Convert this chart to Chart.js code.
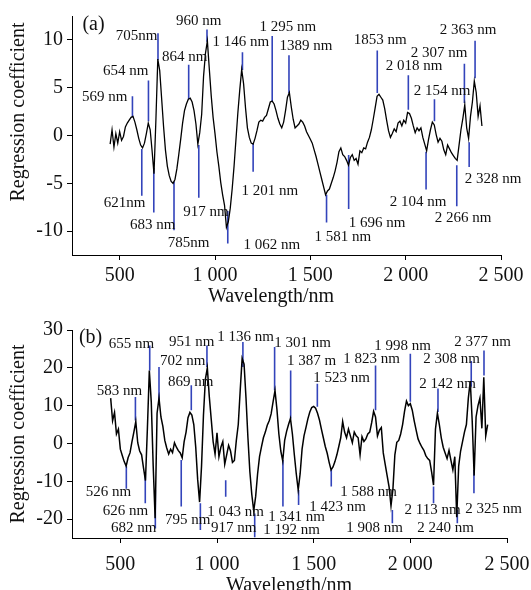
<!DOCTYPE html>
<html>
<head>
<meta charset="utf-8">
<script src="https://cdn.jsdelivr.net/npm/chart.js@4.4.1/dist/chart.umd.min.js"></script>
<style>
  html, body { margin: 0; padding: 0; background: #fff; }
  body { width: 531px; height: 590px; position: relative; overflow: hidden; }
  canvas { position: absolute; left: 0; }
  #chartA { top: 0; }
  #chartB { top: 312px; }
</style>
</head>
<body>
<canvas id="chartA" width="531" height="312"></canvas>
<canvas id="chartB" width="531" height="278"></canvas>
<script>
// spectra are sampled every 10 nm starting at 450 nm
const startNm = 450;
const stepNm = 10;

// (a) regression coefficients, 450 .. 2400 nm
const coefA = [
  -0.9, 0.6, -1.2, 0.2, -0.8, 0.4, -0.5, -0.1, 0.9, 1.3,
  1.6, 1.9, 2.0, 1.4, 0.6, -0.3, -1.0, -1.3, -0.8, 0.2,
  1.3, 0.6, -1.6, -4.0, 1.6, 8.0, 6.8, 3.9, 1.0, -1.5,
  -3.2, -4.2, -4.8, -5.0, -4.6, -3.5, -2.0, -0.4, 1.3, 2.6,
  3.3, 3.8, 3.9, 3.5, 2.6, 1.2, -0.9, 0.3, 2.2, 6.2,
  8.6, 9.9, 7.0, 4.2, 1.9, 0.2, -1.7, -3.2, -4.9, -6.2,
  -7.3, -9.6, -9.0, -7.6, -5.6, -3.2, -0.4, 2.4, 4.8, 6.9,
  5.4, 2.9, 0.8, -0.2, -0.8, -0.9, -0.3, 0.5, 1.4, 1.6,
  1.5, 1.9, 2.1, 2.8, 3.5, 3.6, 3.3, 2.6, 1.8, 1.2,
  0.8, 1.4, 2.6, 4.0, 4.5, 3.0, 1.7, 0.8, 1.0, 1.2,
  1.6, 1.4, 1.0, 0.4, 0.0, -0.4, -0.8, -1.5, -2.2, -3.0,
  -3.8, -4.6, -5.4, -6.2, -5.8, -5.6, -5.0, -4.4, -3.7, -2.8,
  -1.7, -1.3, -2.0, -2.2, -2.6, -3.1, -2.3, -2.0, -2.6, -2.4,
  -3.0, -1.6, -1.8, -1.3, -1.4, -0.7, -0.2, 0.6, 1.7, 2.9,
  4.1, 4.3, 4.0, 3.7, 2.8, 1.6, 0.5, -0.2, 0.2, 0.7,
  0.4, 1.3, 1.5, 1.0, 1.6, 1.3, 2.4, 2.3, 1.8, 1.0,
  0.3, 0.8, 0.5, 0.8, -0.2, -0.9, -1.6, -0.4, 0.6, 1.4,
  1.1, 0.1, -0.7, -0.3, -0.6, -1.5, -2.0, -1.0, -1.4, -1.8,
  -2.1, -2.4, -2.6, -1.0, 0.6, 1.8, 3.2, 0.8, -0.3, 2.0,
  3.5, 5.7, 4.5, 2.0, 3.1, 1.0
];

// (b) regression coefficients, 450 .. 2400 nm
const coefB = [
  12.0, 6.0, 8.2, 2.5, 3.8, -1.5, -3.2, -4.8, -6.0, -3.8,
  -2.5, 0.4, 3.0, 5.8, 0.2, -2.0, -3.0, -6.5, -9.8, 4.0,
  19.3, 11.0, -6.0, -19.8, 8.0, 12.0, 7.0, 4.5, 0.8, -1.2,
  -2.8, -1.5, -2.4, 0.2, -1.0, -1.9, -2.5, -3.8, 0.5, 3.0,
  6.8, 8.2, 7.5, 5.0, -1.0, -9.5, -15.5, -6.0, 7.5, 17.0,
  20.0, 12.5, 6.5, 0.5, -2.8, 2.8, -3.5, -1.0, 0.5, -5.5,
  -3.0, -0.5, -2.0, -5.0, -4.5, 0.8, 5.0, 14.0, 22.5, 21.0,
  12.0, 1.5, -7.5, -13.5, -17.8, -14.0, -8.0, -3.5, -0.9, 1.5,
  3.0, 4.8, 6.0, 7.8, 11.0, 14.0, 9.0, 2.5, -2.0, -4.6,
  0.8, 3.2, 5.0, 6.6, 2.5, -3.0, -8.0, -12.3, -8.0, -1.5,
  2.0, 4.2, 6.5, 8.3, 9.5, 9.8, 9.3, 8.0, 6.2, 3.8,
  1.5, -0.8, -2.6, -5.0, -7.0, -6.2, -4.8, -3.0, -0.8, 1.5,
  5.8, 3.0, 1.5, 3.8, 2.0, 0.2, 3.0, 2.0, 1.5, -3.0,
  1.8, 0.5, 1.2, 2.5, 3.0, 5.5, 8.5, 7.0, 2.0, 3.5,
  4.2, -2.5, -5.5, -8.5, -11.5, -16.5, -12.0, -3.0, 0.3, 0.8,
  2.5, 5.0, 8.5, 11.2, 10.0, 10.5, 8.8, 6.0, 3.5, 1.2,
  0.0, -1.0, -1.8, -3.2, -4.0, -4.5, -7.5, -11.0, 3.8, 8.0,
  5.0, 1.5, -1.0, -2.5, -4.0, -1.8, -4.5, -7.0, -3.5, -19.5,
  -6.0, -2.0, 0.5, 3.0, 5.0, 12.0, 16.5, 6.0, -8.5, 7.0,
  10.0, 12.0, 4.0, 17.5, 2.0, 5.0
];

const xTicks = [500, 1000, 1500, 2000, 2500];
const yTicksA = [-10, -5, 0, 5, 10];
const yTicksB = [-20, -10, 0, 10, 20, 30];

// blue marker lines: wavelength, upper and lower end (coefficient units)
const markerNmA  = [567, 616, 651, 679, 701, 785, 862, 915, 958, 1067, 1144, 1200, 1300, 1388, 1585, 1701, 1851, 2014, 2107, 2151, 2268, 2308, 2333, 2364];
const markerTopA = [4.1, -1.4, 5.75, -3.4, 10.7, -4.8, 7.4, -1.0, 11.1, -7.9, 8.7, -0.86, 10.4, 8.4, -6.2, -2.05, 8.9, 6.3, -1.7, 3.8, -3.1, 7.5, -0.7, 9.9];
const markerBotA = [1.9, -6.3, 1.5, -8.05, 7.9, -9.9, 3.8, -6.5, 9.8, -11.3, 6.85, -3.8, 3.6, 4.45, -9.1, -7.7, 4.45, 2.7, -5.65, 1.5, -7.4, 3.4, -3.3, 6.0];

const markerNmB  = [578, 531, 629, 652, 681, 700, 815, 867, 914, 948, 1045, 1134, 1195, 1298, 1341, 1381, 1422, 1519, 1591, 1820, 1907, 2000, 2120, 2143, 2243, 2315, 2329, 2381];
const markerTopB = [12.3, -6.0, -7.9, 25.9, -12.3, 20.2, -4.4, 15.4, -15.8, 25.9, -9.7, 26.8, -18.5, 25.5, -4.4, 19.3, -12.3, 15.8, -7.0, 20.6, -17.6, 23.7, -11.4, 14.5, -17.6, 21.8, -7.0, 24.6];
const markerBotB = [6.1, -12.0, -15.8, 19.3, -22.5, 11.0, -16.7, 8.8, -22.9, 20.2, -14.1, 20.2, -24.8, 14.1, -16.7, 6.6, -16.3, 9.7, -11.4, 8.8, -21.1, 11.0, -15.8, 8.3, -21.1, 15.0, -13.2, 18.0];

// marker captions and where they sit (centre, in axis units)
const labelTextA = ['569 nm', '654 nm', '705nm', '864 nm', '960 nm', '1 146 nm', '1 295 nm', '1389 nm', '1853 nm', '2 018 nm', '2 307 nm', '2 154 nm', '2 363 nm',
                    '621nm', '683 nm', '785nm', '917 nm', '1 201 nm', '1 062 nm', '1 581 nm', '1 696 nm', '2 104 nm', '2 266 nm', '2 328 nm'];
const labelNmA  = [421, 532, 589, 841, 915, 1135, 1382, 1477, 1866, 2044, 2175, 2191, 2328, 526, 673, 862, 952, 1288, 1298, 1671, 1850, 2065, 2301, 2459];
const labelValA = [4.04, 6.71, 10.41, 8.25, 11.95, 9.79, 11.34, 9.38, 10.0, 7.23, 8.66, 4.66, 11.03, -7.06, -9.42, -11.27, -7.99, -5.83, -11.48, -10.66, -9.12, -6.96, -8.6, -4.59];

const labelTextB = ['583 nm', '655 nm', '702 nm', '869 nm', '951 nm', '1 136 nm', '1 301 nm', '1 387 m', '1 523 nm', '1 823 nm', '1 998 nm', '2 308 nm', '2 142 nm', '2 377 nm',
                    '526 nm', '626 nm', '682 nm', '795 nm', '917 nm', '1 043 nm', '1 192 nm', '1 341 nm', '1 423 nm', '1 588 nm', '1 908 nm', '2 113 nm', '2 240 nm', '2 325 nm'];
const labelNmB  = [496, 558, 822, 864, 869, 1148, 1443, 1489, 1645, 1800, 1960, 2213, 2193, 2374, 439, 527, 569, 848, 1086, 1096, 1386, 1412, 1624, 1784, 1815, 2115, 2182, 2431];
const labelValB = [13.8, 26.2, 21.7, 16.17, 26.73, 28.05, 26.46, 21.7, 17.23, 22.24, 25.67, 22.24, 15.65, 26.73, -12.85, -17.86, -22.35, -20.24, -22.35, -18.13, -22.88, -19.45, -16.8, -12.85, -22.35, -17.6, -22.35, -17.33];

const serif = '"Liberation Serif", "Times New Roman", serif';

// thousands with a gap, like "1 000"
function fmtNm(v){
  return v >= 1000 ? String(v).replace(/\B(?=(\d{3})+(?!\d))/g, ' ') : String(v);
}

// draws the captions, the panel tag and both axis titles
const textPlugin = {
  id: 'panelText',
  afterDraw(chart, args, opts){
    const ctx = chart.ctx;
    const x = chart.scales.x;
    const y = chart.scales.y;
    ctx.save();
    ctx.fillStyle = '#111';
    ctx.textAlign = 'center';
    ctx.textBaseline = 'middle';

    ctx.font = '15px ' + serif;
    opts.text.forEach((t, i) => {
      ctx.fillText(t, x.getPixelForValue(opts.nm[i]), y.getPixelForValue(opts.val[i]));
    });

    ctx.font = '20px ' + serif;
    ctx.fillText(opts.tag[0], x.getPixelForValue(opts.tag[1]), y.getPixelForValue(opts.tag[2]));
    ctx.fillText('Wavelength/nm', opts.xTitle[0], opts.xTitle[1]);

    ctx.translate(opts.yTitle[0], opts.yTitle[1]);
    ctx.rotate(-Math.PI / 2);
    ctx.fillText('Regression coefficient', 0, 0);
    ctx.restore();
  }
};

function makeChart(canvasId, coef, markerNm, markerTop, markerBot, yMin, yMax, yTicks, pad, xAxisHeight, xTickPad, lineW, text){
  const curve = coef.map((v, i) => ({x: startNm + i * stepNm, y: v}));

  const datasets = [{
    data: curve,
    borderColor: '#000',
    borderWidth: lineW,
    pointRadius: 0,
    tension: 0
  }];
  markerNm.forEach((nm, i) => {
    datasets.push({
      data: [{x: nm, y: markerTop[i]}, {x: nm, y: markerBot[i]}],
      borderColor: '#3344bb',
      borderWidth: 1.6,
      pointRadius: 0
    });
  });

  const tickFont = {family: serif, size: 20};

  return new Chart(document.getElementById(canvasId), {
    type: 'line',
    data: {datasets: datasets},
    plugins: [textPlugin],
    options: {
      responsive: false,
      animation: false,
      events: [],
      layout: {padding: pad},
      plugins: {
        legend: {display: false},
        tooltip: {enabled: false},
        panelText: text
      },
      scales: {
        x: {
          type: 'linear',
          min: 250,
          max: 2500,
          afterBuildTicks: (scale) => { scale.ticks = xTicks.map(v => ({value: v})); },
          afterFit: (scale) => {
            scale.height = xAxisHeight;
            // the layout padding already leaves room for the end labels
            scale.paddingLeft = 0;
            scale.paddingRight = 0;
          },
          ticks: {
            font: tickFont,
            color: '#111',
            padding: xTickPad,
            maxRotation: 0,
            autoSkip: false,
            callback: (v) => fmtNm(v)
          },
          grid: {drawOnChartArea: false, drawTicks: true, tickLength: 5, color: '#000'},
          border: {display: true, color: '#000', width: 1}
        },
        y: {
          min: yMin,
          max: yMax,
          afterBuildTicks: (scale) => { scale.ticks = yTicks.map(v => ({value: v})); },
          afterFit: (scale) => { scale.width = 72; },
          ticks: {
            font: tickFont,
            color: '#111',
            padding: 4,
            callback: (v) => String(v)
          },
          grid: {drawOnChartArea: false, drawTicks: true, tickLength: 5, color: '#000'},
          border: {display: true, color: '#000', width: 1}
        }
      }
    }
  });
}

makeChart('chartA', coefA, markerNmA, markerTopA, markerBotA, -12.5, 12.5, yTicksA,
  {left: 0, top: 12, right: 30, bottom: 0}, 57, 4, 1.3,
  {text: labelTextA, nm: labelNmA, val: labelValA, tag: ['(a)', 363, 11.54], xTitle: [271, 297], yTitle: [19, 112]});

makeChart('chartB', coefB, markerNmB, markerTopB, markerBotB, -25, 30, yTicksB,
  {left: 0, top: 18, right: 24, bottom: 0}, 52, 10, 1.5,
  {text: labelTextB, nm: labelNmB, val: labelValB, tag: ['(b)', 346, 28.05], xTitle: [289, 274], yTitle: [19, 122]});
</script>
</body>
</html>
